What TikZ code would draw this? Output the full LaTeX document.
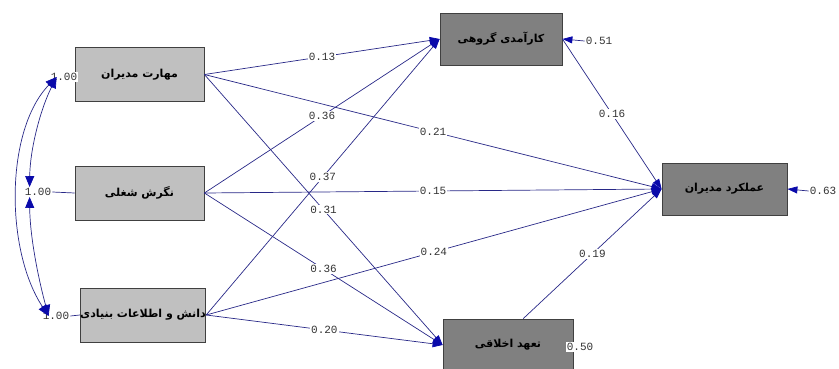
\documentclass[tikz,border=0pt]{standalone}
\usepackage{fontspec}
\usetikzlibrary{arrows.meta}
\TeXXeTstate=1
\newfontfamily\arabicfont[Script=Arabic]{DejaVu Sans}
\newfontfamily\lblfont{Liberation Mono}
\definecolor{linec}{RGB}{40,40,135}
\definecolor{tipc}{RGB}{10,10,170}
\definecolor{exo}{RGB}{192,192,192}
\definecolor{endo}{RGB}{128,128,128}
\begin{document}
\begin{tikzpicture}[x=1pt,y=-1pt,
  boxbase/.style={draw=black!75, line width=0.8pt, minimum height=54pt, inner sep=0pt,
    font=\arabicfont\bfseries\fontsize{11}{13}\selectfont},
  exobox/.style={boxbase, fill=exo},
  endobox/.style={boxbase, fill=endo, minimum height=52pt},
  lbl/.style={font=\lblfont\fontsize{11}{12}\selectfont, inner sep=1pt, text=black!80},
  lblw/.style={lbl, fill=white},
  pathc/.style={draw=linec, line width=0.7pt, -{Triangle[length=10pt,width=7pt,color=tipc]}},
  covc/.style={draw=linec, line width=0.7pt, {Triangle[length=11pt,width=9pt,color=tipc]}-{Triangle[length=11pt,width=9pt,color=tipc]}},
  plain/.style={draw=linec, line width=0.7pt}
]
\useasboundingbox (0,0) rectangle (839,369);

% boxes
\node[exobox, minimum width=129pt] (A) at (139.5,74.5) {\beginR مهارت مدیران\endR};
\node[exobox, minimum width=129pt] (B) at (139.5,193) {\beginR نگرش شغلی\endR};
\node[exobox, minimum width=124pt] (C) at (143,315) {\beginR دانش و اطلاعات بنیادی\endR};
\node[endobox, minimum width=122pt] (D) at (501,39) {\beginR کارآمدی گروهی\endR};
\node[endobox, minimum width=125pt] (E) at (724.5,189) {\beginR عملکرد مدیران\endR};
\node[endobox, minimum width=130pt] (F) at (508,345) {\beginR تعهد اخلاقی\endR};

% structural paths
\draw[pathc] (A.east) -- node[lblw]{0.13} (D.west);
\draw[pathc] (A.east) -- node[lblw]{0.21} (E.west);
\draw[pathc] (A.east) -- node[lblw]{0.31} (F.west);
\draw[pathc] (B.east) -- node[lblw]{0.36} (D.west);
\draw[pathc] (B.east) -- node[lblw]{0.15} (E.west);
\draw[pathc] (B.east) -- node[lblw]{0.36} (F.west);
\draw[pathc] (C.east) -- node[lblw]{0.37} (D.west);
\draw[pathc] (C.east) -- node[lblw]{0.24} (E.west);
\draw[pathc] (C.east) -- node[lblw]{0.20} (F.west);
\draw[pathc] (D.east) -- node[lblw]{0.16} (E.west);
\draw[pathc] (F.60) -- node[lblw]{0.19} (E.west);

% error terms
\node[lbl] (e1) at (599,41) {0.51};
\draw[pathc] (e1.west) -- (D.east);
\node[lbl] (e2) at (823,191) {0.63};
\draw[pathc] (e2.west) -- (E.east);
\node[lblw] (e3) at (580,347) {0.50};

% variances / covariances
\node[lblw] (v1) at (64,77) {1.00};
\node[lblw] (v2) at (38,192) {1.00};
\node[lblw] (v3) at (56,316) {1.00};
\draw[plain] (v2.east) -- (B.west);
\draw[plain] (v3.east) -- (C.west);
\draw[covc] ([xshift=7pt]v1.west) .. controls (40,110) and (30,150) .. ([xshift=6pt]v2.north west);
\draw[covc] ([xshift=6pt]v2.south west) .. controls (30,240) and (40,285) .. ([xshift=7pt]v3.west);
\draw[covc] ([xshift=7pt]v1.west) .. controls (5,130) and (5,250) .. ([xshift=7pt]v3.west);
\end{tikzpicture}
\end{document}
